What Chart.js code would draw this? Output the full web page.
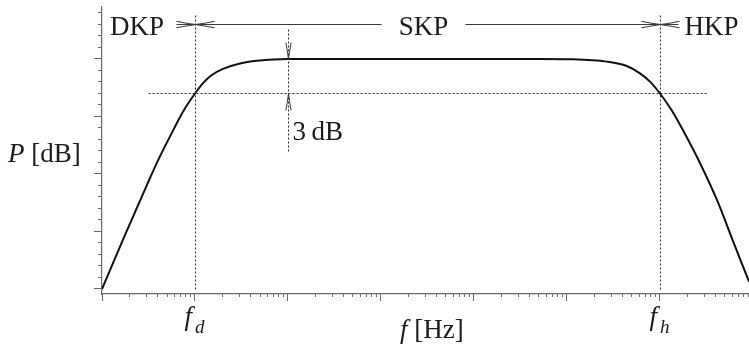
<!DOCTYPE html>
<html>
<head>
<meta charset="utf-8">
<script src="https://cdn.jsdelivr.net/npm/chart.js@4.4.1/dist/chart.umd.min.js"></script>
<style>
  html, body { margin: 0; padding: 0; background: #fff; }
  #wrap { width: 749px; height: 344px; }
</style>
</head>
<body>
<div id="wrap"><canvas id="chart"></canvas></div>
<script>
// band-pass response: level in dB over a log frequency axis
const freqs  = [1, 1.77, 3.12, 4.1, 5.39, 7.43, 10, 12.2, 14.9, 20, 30.5, 46.4, 100,
                1e3, 1e4, 5.13e4, 1.16e5, 2.67e5, 4.39e5, 6.1e5, 7.8e5, 1e6,
                1.35e6, 1.81e6, 2.69e6, 4.1e6, 6.1e6, 9.06e6];
const levels = [0, 4.7, 9.25, 11.36, 13.27, 15.42, 17.0, 17.9, 18.57, 19.14, 19.61, 19.84, 20,
                20, 20, 20, 19.97, 19.77, 19.39, 18.75, 18.03, 17.0,
                15.48, 13.65, 10.96, 7.74, 4.17, 0.65];

// cut-off frequencies and the 3 dB marker
const fLow = 10, fHigh = 1e6, fMark = 100;
const passLevel = 20, cutLevel = 17;           // cutLevel = passLevel - 3 dB
const cutSpan = [3.16, 3.16e6];                // extent of the -3 dB guide
const guideTop = 24, markSpan = [22.6, 12.0];  // vertical guide extents (dB)

// band arrows along the top
const bandLevel = 23;
const bandNames = ['DKP', 'SKP', 'HKP'];
const bandArrows = [[6.25, 1e3], [8e3, 1.56e6]];

// axes
const xMin = 1, xMax = 9.06e6;
const yMin = -0.435, yMax = 24.52;
const xMajorTicks = [1, 10, 100, 1e3, 1e4, 1e5, 1e6];
const xMinorTicks = [];
xMajorTicks.forEach(d => { for (let m = 1; m <= 9; m++) if (m * d <= xMax) xMinorTicks.push(m * d); });
const yMinorTicks = Array.from({ length: 25 }, (_, i) => i);
const yMajorTicks = [0, 5, 10, 15, 20];

const axisColor = '#6a6a6a';
const inkColor = '#1b1b1b';
const serif = '"Liberation Serif", "Times New Roman", serif';

function setTicks(values) {
  return scale => { scale.ticks = values.map(v => ({ value: v })); };
}

function stroke(ctx, x1, y1, x2, y2) {
  ctx.beginPath();
  ctx.moveTo(x1, y1);
  ctx.lineTo(x2, y2);
  ctx.stroke();
}

// thin open arrowhead, (dx, dy) is the direction it points to
function arrowHead(ctx, tx, ty, dx, dy, len, half) {
  const bx = tx - dx * len, by = ty - dy * len;
  const px = -dy * half, py = dx * half;
  ctx.beginPath();
  ctx.moveTo(bx + px, by + py);
  ctx.quadraticCurveTo(tx - dx * len * 0.45 + px * 0.35, ty - dy * len * 0.45 + py * 0.35, tx, ty);
  ctx.quadraticCurveTo(tx - dx * len * 0.45 - px * 0.35, ty - dy * len * 0.45 - py * 0.35, bx - px, by - py);
  ctx.stroke();
}

function freqLabel(ctx, cx, baseline, sub) {
  ctx.font = 'italic 27px ' + serif;
  const fx = cx - 11;
  ctx.fillText('f', fx, baseline);
  const w = ctx.measureText('f').width;
  ctx.font = 'italic 19px ' + serif;
  ctx.fillText(sub, fx + w + 3, baseline + 8);
}

const annotations = {
  id: 'annotations',
  afterDraw(chart) {
    const { ctx } = chart;
    const X = v => Math.round(chart.scales.x.getPixelForValue(v)) + 0.5;
    const Y = v => Math.round(chart.scales.y.getPixelForValue(v)) + 0.5;
    ctx.save();

    // dashed guides
    ctx.strokeStyle = '#2a2a2a';
    ctx.lineWidth = 1;
    ctx.setLineDash([2, 2]);
    stroke(ctx, X(fLow), Y(0), X(fLow), Y(guideTop));
    stroke(ctx, X(fHigh), Y(0), X(fHigh), Y(guideTop));
    stroke(ctx, X(cutSpan[0]), Y(cutLevel), X(cutSpan[1]), Y(cutLevel));
    stroke(ctx, X(fMark), Y(markSpan[0]), X(fMark), Y(markSpan[1]));
    ctx.setLineDash([]);

    // 3 dB arrows
    ctx.strokeStyle = '#333';
    arrowHead(ctx, X(fMark), Y(passLevel), 0, 1, 17, 2.6);
    arrowHead(ctx, X(fMark), Y(cutLevel), 0, -1, 17, 2.6);

    // band arrows
    const by = Y(bandLevel);
    ctx.lineWidth = 1.1;
    ctx.strokeStyle = '#3a3a3a';
    bandArrows.forEach(([a, b]) => stroke(ctx, X(a), by, X(b), by));
    [fLow, fHigh].forEach(f => {
      arrowHead(ctx, X(f), by, 1, 0, 19, 3.3);
      arrowHead(ctx, X(f), by, -1, 0, 19, 3.3);
    });

    // texts
    ctx.fillStyle = inkColor;
    ctx.textBaseline = 'alphabetic';
    ctx.textAlign = 'left';
    ctx.font = '27px ' + serif;
    ctx.fillText(bandNames[0], 110, 35);
    ctx.textAlign = 'center';
    ctx.fillText(bandNames[1], (X(bandArrows[0][1]) + X(bandArrows[1][0])) / 2, 35);
    ctx.textAlign = 'left';
    ctx.fillText(bandNames[2], X(fHigh) + 24, 35);
    ctx.fillText('3\u2009dB', X(fMark) + 4, 140);

    // y title: P [dB]
    ctx.font = 'italic 27px ' + serif;
    ctx.fillText('P', 8, 162);
    let w = ctx.measureText('P').width;
    ctx.font = '27px ' + serif;
    ctx.fillText(' [dB]', 8 + w, 162);

    // x title: f [Hz]
    ctx.font = 'italic 27px ' + serif;
    ctx.fillText('f', 400, 338);
    w = ctx.measureText('f').width;
    ctx.font = '27px ' + serif;
    ctx.fillText(' [Hz]', 400 + w, 338);

    // cut-off labels under the axis
    freqLabel(ctx, X(fLow), 325, 'd');
    freqLabel(ctx, X(fHigh), 325, 'h');

    ctx.restore();
  }
};

const minorGrid = len => ({ drawOnChartArea: false, drawTicks: true, tickLength: len, tickColor: axisColor, tickWidth: 1 });

new Chart(document.getElementById('chart'), {
  type: 'line',
  data: {
    datasets: [{
      data: freqs.map((f, i) => ({ x: f, y: levels[i] })),
      borderColor: '#111',
      borderWidth: 2,
      pointRadius: 0,
      cubicInterpolationMode: 'monotone',
      fill: false
    }]
  },
  options: {
    responsive: true,
    maintainAspectRatio: false,
    animation: false,
    layout: { padding: { top: 7, left: 0, right: 0, bottom: 0 } },
    plugins: { legend: { display: false }, tooltip: { enabled: false } },
    scales: {
      x: {
        type: 'logarithmic', position: 'bottom', min: xMin, max: xMax, bounds: 'data',
        afterBuildTicks: setTicks(xMinorTicks),
        afterFit: s => { s.height = 50; },
        ticks: { display: false },
        grid: minorGrid(3),
        border: { color: axisColor, width: 1.2 }
      },
      xMajor: {
        axis: 'x', type: 'logarithmic', position: { y: yMin }, min: xMin, max: xMax, bounds: 'data',
        afterBuildTicks: setTicks(xMajorTicks),
        ticks: { display: false },
        grid: minorGrid(7),
        border: { display: false }
      },
      y: {
        type: 'linear', position: 'left', min: yMin, max: yMax,
        afterBuildTicks: setTicks(yMinorTicks),
        afterFit: s => { s.width = 102; },
        ticks: { display: false },
        grid: minorGrid(4),
        border: { color: axisColor, width: 1.2 }
      },
      yMajor: {
        axis: 'y', type: 'linear', position: { x: xMin }, min: yMin, max: yMax,
        afterBuildTicks: setTicks(yMajorTicks),
        ticks: { display: false },
        grid: minorGrid(8),
        border: { display: false }
      }
    }
  },
  plugins: [annotations]
});
</script>
</body>
</html>
